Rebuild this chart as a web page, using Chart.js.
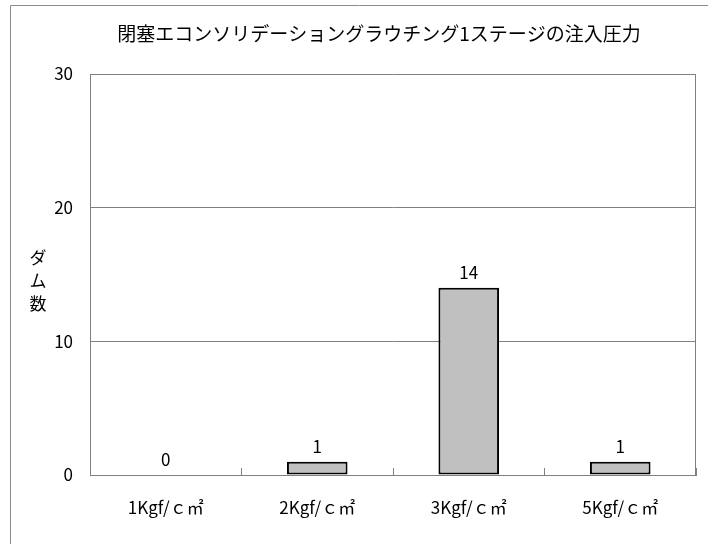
<!DOCTYPE html>
<html lang="ja">
<head>
<meta charset="UTF-8">
<title>閉塞エコンソリデーショングラウチング1ステージの注入圧力</title>
<script src="https://cdn.jsdelivr.net/npm/chart.js"></script>
<style>
  html, body { margin: 0; padding: 0; background: #fff; }
  #wrap { width: 708px; height: 544px; }
</style>
</head>
<body>
<div id="wrap"><canvas id="chart"></canvas></div>
<script>
const chartTitle = '閉塞エコンソリデーショングラウチング1ステージの注入圧力';
const axisTitle = ['ダ', 'ム', '数'];
const pressures = ['1Kgf/ｃ㎡', '2Kgf/ｃ㎡', '3Kgf/ｃ㎡', '5Kgf/ｃ㎡'];
const damCounts = [0, 1, 14, 1];
const yTicks = [0, 10, 20, 30];

const FONT = '"Noto Sans CJK JP", "Noto Sans", sans-serif';
const GRAY = '#808080';

// outer frame, title, plot border, vertical axis title and bar value labels
const decorations = {
  id: 'decorations',
  beforeDraw(chart) {
    const ctx = chart.ctx;
    ctx.save();
    ctx.strokeStyle = '#8c8c8c';
    ctx.lineWidth = 1;
    ctx.beginPath();
    ctx.moveTo(10.5, chart.height);
    ctx.lineTo(10.5, 5.5);
    ctx.lineTo(chart.width, 5.5);
    ctx.stroke();

    ctx.fillStyle = '#000';
    ctx.font = '19px ' + FONT;
    ctx.textAlign = 'center';
    ctx.textBaseline = 'middle';
    ctx.fillText(chartTitle, 379, 34);
    ctx.restore();
  },
  afterDatasetsDraw(chart) {
    const ctx = chart.ctx;
    const area = chart.chartArea;
    ctx.save();
    ctx.strokeStyle = GRAY;
    ctx.lineWidth = 1;
    ctx.beginPath();
    ctx.moveTo(Math.round(area.right) - 0.5, area.top);
    ctx.lineTo(Math.round(area.right) - 0.5, area.bottom);
    ctx.stroke();

    ctx.fillStyle = '#000';
    ctx.font = '17px ' + FONT;
    ctx.textAlign = 'center';
    ctx.textBaseline = 'middle';
    axisTitle.forEach((ch, i) => {
      ctx.fillText(ch, 38, 258 + i * 23);
    });

    ctx.font = '17px ' + FONT;
    ctx.textBaseline = 'bottom';
    const meta = chart.getDatasetMeta(0);
    meta.data.forEach((bar, i) => {
      ctx.fillText(String(damCounts[i]), bar.x, bar.y - 7);
    });
    ctx.restore();
  }
};

new Chart(document.getElementById('chart'), {
  type: 'bar',
  data: {
    labels: pressures,
    datasets: [{
      data: damCounts,
      backgroundColor: '#c0c0c0',
      borderColor: '#000',
      borderWidth: 2,
      borderSkipped: false,
      barPercentage: 0.4,
      categoryPercentage: 1
    }]
  },
  options: {
    responsive: true,
    maintainAspectRatio: false,
    animation: false,
    events: [],
    layout: { padding: { left: 0, right: 12, top: 74, bottom: 0 } },
    plugins: {
      legend: { display: false },
      tooltip: { enabled: false },
      title: { display: false }
    },
    scales: {
      x: {
        afterFit: s => { s.height = 69; },
        grid: {
          offset: true,
          drawOnChartArea: false,
          drawTicks: true,
          tickLength: -7,
          color: GRAY
        },
        border: { display: true, color: GRAY, width: 1 },
        ticks: {
          color: '#000',
          padding: 29,
          maxRotation: 0,
          font: { family: FONT, size: 17 }
        }
      },
      y: {
        min: 0,
        max: 30,
        afterFit: s => { s.width = 90; },
        afterBuildTicks: s => { s.ticks = yTicks.map(v => ({ value: v })); },
        grid: { color: GRAY, drawTicks: false },
        border: { display: true, color: GRAY, width: 1 },
        ticks: {
          color: '#000',
          padding: 17,
          font: { family: FONT, size: 17 }
        }
      }
    }
  },
  plugins: [decorations]
});
</script>
</body>
</html>
